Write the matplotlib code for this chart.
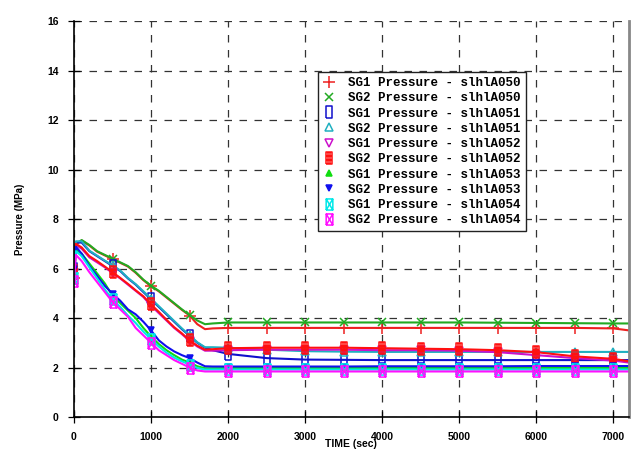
import numpy as np
import matplotlib
matplotlib.use("Agg")
import matplotlib.pyplot as plt
from matplotlib.path import Path

# time points (sec)
t = [0, 25, 100, 200, 300, 400, 500, 600, 700, 800, 900, 1000, 1100, 1200, 1300,
     1400, 1500, 1600, 1700, 1800, 2000, 2500, 3000, 3500, 4000, 4500, 5000, 5500,
     6000, 6500, 7000, 7200]

# pressures (MPa)
sg1_050 = [5.6, 6.98, 7.13, 6.93, 6.68, 6.53, 6.38, 6.23, 6.08, 5.83, 5.53, 5.28, 5.08, 4.83, 4.58,
           4.33, 4.1, 3.75, 3.55, 3.58, 3.6, 3.6, 3.6, 3.6, 3.6, 3.6, 3.6, 3.6, 3.6, 3.6, 3.58, 3.5]
sg2_050 = [5.7, 7.0, 7.15, 6.95, 6.7, 6.55, 6.4, 6.25, 6.1, 5.85, 5.55, 5.3, 5.1, 4.85, 4.6,
           4.35, 4.12, 3.9, 3.75, 3.78, 3.82, 3.82, 3.82, 3.82, 3.82, 3.82, 3.82, 3.81, 3.8, 3.79, 3.78, 3.78]
sg1_051 = [6.0, 7.05, 7.05, 6.7, 6.5, 6.3, 6.1, 5.9, 5.6, 5.35, 5.05, 4.75, 4.45, 4.15, 3.85,
           3.55, 3.28, 3.0, 2.8, 2.7, 2.55, 2.38, 2.32, 2.31, 2.3, 2.3, 2.3, 2.3, 2.3, 2.3, 2.3, 2.3]
sg2_051 = [6.1, 7.1, 7.1, 6.72, 6.52, 6.32, 6.13, 5.92, 5.62, 5.37, 5.08, 4.78, 4.48, 4.18, 3.88,
           3.58, 3.3, 3.02, 2.82, 2.82, 2.8, 2.72, 2.66, 2.64, 2.63, 2.63, 2.63, 2.63, 2.63, 2.63, 2.63, 2.63]
sg1_052 = [5.8, 6.95, 6.8, 6.45, 6.25, 6.05, 5.82, 5.6, 5.35, 5.1, 4.85, 4.5, 4.2, 3.9, 3.6,
           3.35, 3.08, 2.85, 2.68, 2.68, 2.7, 2.72, 2.72, 2.72, 2.7, 2.7, 2.68, 2.62, 2.5, 2.38, 2.28, 2.2]
sg2_052 = [5.9, 7.0, 6.85, 6.5, 6.3, 6.08, 5.85, 5.62, 5.38, 5.12, 4.88, 4.55, 4.25, 3.93, 3.63,
           3.38, 3.1, 2.88, 2.72, 2.74, 2.78, 2.8, 2.8, 2.8, 2.78, 2.76, 2.74, 2.7, 2.62, 2.45, 2.35, 2.25]
sg1_053 = [5.7, 6.75, 6.6, 6.2, 5.8, 5.4, 4.9, 4.6, 4.3, 4.0, 3.6, 3.25, 2.95, 2.7, 2.5,
           2.32, 2.2, 2.05, 1.97, 1.97, 1.98, 1.98, 1.98, 1.98, 1.98, 1.98, 1.98, 1.98, 1.98, 1.98, 1.98, 1.98]
sg2_053 = [6.0, 6.88, 6.6, 6.1, 5.7, 5.3, 4.98, 4.7, 4.35, 4.15, 3.85, 3.5, 3.1, 2.85, 2.65,
           2.5, 2.38, 2.2, 2.05, 2.04, 2.04, 2.04, 2.04, 2.04, 2.05, 2.05, 2.05, 2.05, 2.06, 2.06, 2.06, 2.06]
sg1_054 = [5.6, 6.7, 6.5, 6.05, 5.6, 5.15, 4.75, 4.45, 4.1, 3.8, 3.45, 3.15, 2.85, 2.6, 2.4,
           2.25, 2.12, 1.98, 1.92, 1.92, 1.92, 1.92, 1.92, 1.92, 1.92, 1.92, 1.92, 1.92, 1.92, 1.92, 1.92, 1.92]
sg2_054 = [5.5, 6.55, 6.3, 5.85, 5.45, 5.05, 4.65, 4.35, 4.05, 3.6, 3.3, 3.0, 2.7, 2.5, 2.3,
           2.15, 2.0, 1.88, 1.84, 1.84, 1.84, 1.84, 1.84, 1.84, 1.84, 1.84, 1.84, 1.84, 1.84, 1.84, 1.84, 1.84]

labels = ["SG1 Pressure - slhlA050", "SG2 Pressure - slhlA050",
          "SG1 Pressure - slhlA051", "SG2 Pressure - slhlA051",
          "SG1 Pressure - slhlA052", "SG2 Pressure - slhlA052",
          "SG1 Pressure - slhlA053", "SG2 Pressure - slhlA053",
          "SG1 Pressure - slhlA054", "SG2 Pressure - slhlA054"]

# custom markers: box with grid, box with hourglass
grid_box = Path([(-0.6, -1), (0.6, -1), (0.6, 1), (-0.6, 1), (-0.6, -1),
                 (-0.2, -1), (-0.2, 1), (0.2, -1), (0.2, 1),
                 (-0.6, -0.3), (0.6, -0.3), (-0.6, 0.3), (0.6, 0.3)],
                [1, 2, 2, 2, 2, 1, 2, 1, 2, 1, 2, 1, 2])
hour_box = Path([(-0.6, -1), (0.6, -1), (0.6, 1), (-0.6, 1), (-0.6, -1),
                 (-0.6, 1), (0.6, -1), (-0.6, -1), (0.6, 1)],
                [1, 2, 2, 2, 2, 1, 2, 1, 2])
tall_box = Path([(-0.55, -1), (0.55, -1), (0.55, 1), (-0.55, 1), (-0.55, -1)],
                [1, 2, 2, 2, 2])

styles = [
    dict(color="#ee2020", marker="+", ms=8, mfc="none"),
    dict(color="#22aa22", marker="x", ms=6, mfc="none"),
    dict(color="#1010cc", marker=tall_box, ms=8, mfc="none"),
    dict(color="#20b0c0", marker="^", ms=6, mfc="none"),
    dict(color="#cc10cc", marker="v", ms=6, mfc="none"),
    dict(color="#ff1010", marker=grid_box, ms=8, mfc="none"),
    dict(color="#10dd10", marker="^", ms=5, mfc="#10dd10"),
    dict(color="#1010ee", marker="v", ms=5, mfc="#1010ee"),
    dict(color="#00e8e8", marker=hour_box, ms=8, mfc="none"),
    dict(color="#ff10ff", marker=hour_box, ms=8, mfc="none"),
]
series = [sg1_050, sg2_050, sg1_051, sg2_051, sg1_052, sg2_052,
          sg1_053, sg2_053, sg1_054, sg2_054]

# put markers every 500 s
marks = [i for i, v in enumerate(t) if v % 500 == 0 and v <= 7000]

fig = plt.figure(figsize=(6.4, 4.5), dpi=100)
ax = fig.add_axes([0.1156, 0.0733, 0.867, 0.88])

for ys, lab, st in zip(series, labels, styles):
    ax.plot(t, ys, lw=1.5, label=lab, markevery=marks, mew=1.1, **st)

ax.set_xlim(0, 7200)
ax.set_ylim(0, 16)
ax.set_xticks(range(0, 8000, 1000))
ax.set_yticks(range(0, 18, 2))
ax.grid(True, color="#333333", ls=(0, (6, 6)), lw=0.9)

narrow = ["Liberation Sans Narrow", "Liberation Sans", "DejaVu Sans"]
for lab in ax.get_xticklabels() + ax.get_yticklabels():
    lab.set_family(narrow)
    lab.set_fontweight("bold")
    lab.set_fontsize(7.5)
ax.tick_params(direction="inout", length=8, width=0.9, pad=7)

ax.set_ylabel("Pressure (MPa)", family=narrow, fontweight="bold", fontsize=7, labelpad=16)
ax.set_xlabel("TIME (sec)", family=narrow, fontweight="bold", fontsize=7.5)
# the reference crops this label at the bottom edge; keep it just inside
ax.xaxis.set_label_coords(351 / 640, 11 / 450, transform=fig.transFigure)

ax.spines["top"].set_visible(False)
ax.spines["right"].set_color("#888888")
ax.spines["right"].set_linewidth(2)
ax.spines["left"].set_linewidth(1.2)
ax.spines["bottom"].set_linewidth(1.2)

leg = ax.legend(loc="upper left", bbox_to_anchor=(0.44, 0.871), borderaxespad=0,
                prop=dict(family="Liberation Mono", weight="bold", size=9),
                labelspacing=0.26, handlelength=1.0, handletextpad=1.0,
                borderpad=0.4, fancybox=False, framealpha=1, edgecolor="#222222")
for h in leg.legend_handles:
    h.set_linestyle("none")
leg.get_frame().set_linewidth(1.0)

fig.savefig("out.png", dpi=100)
